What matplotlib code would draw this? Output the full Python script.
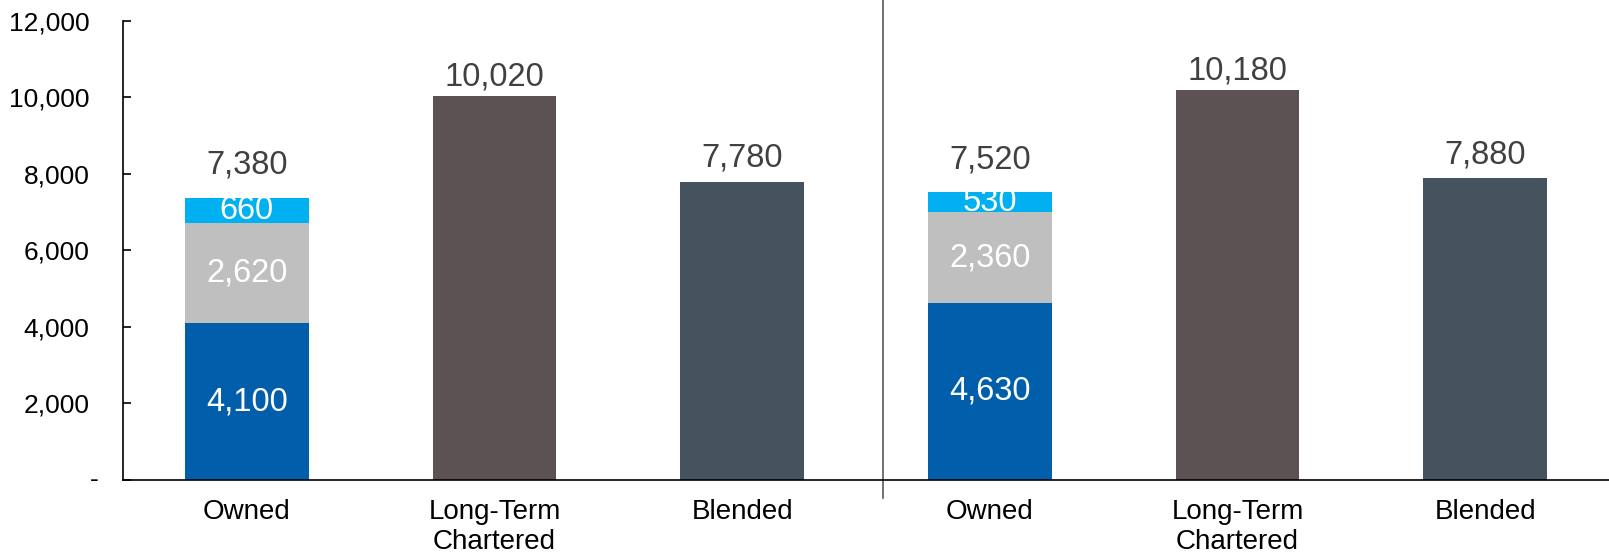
import matplotlib.pyplot as plt

plt.rcParams['font.family'] = ['Liberation Sans', 'DejaVu Sans']

# two groups of three columns, owned column stacked in three parts
categories = ['Owned', 'Long-Term\nChartered', 'Blended', 'Owned', 'Long-Term\nChartered', 'Blended']
owned_base = [4100, 4630]
owned_mid = [2620, 2360]
owned_top = [660, 530]
chartered = [10020, 10180]
blended = [7780, 7880]
yticks = [0, 2000, 4000, 6000, 8000, 10000, 12000]

c_base = '#005EAA'
c_mid = '#BFBFBF'
c_top = '#00B0F0'
c_chart = '#5C5153'
c_blend = '#44535D'
c_total = '#404040'
fs_val = 23.5

fig = plt.figure(figsize=(16.09, 5.54), dpi=100)
ax = fig.add_axes([0.0764, 0.1336, 0.9236, 0.829])

width = 0.5
for g in range(2):
    x0 = g * 3
    b1 = ax.bar(x0, owned_base[g], width, color=c_base)
    b2 = ax.bar(x0, owned_mid[g], width, bottom=owned_base[g], color=c_mid)
    b3 = ax.bar(x0, owned_top[g], width, bottom=owned_base[g] + owned_mid[g], color=c_top)
    for bars, v in ((b1, owned_base[g]), (b2, owned_mid[g]), (b3, owned_top[g])):
        r = bars[0]
        ax.text(r.get_x() + r.get_width() / 2, r.get_y() + r.get_height() / 2,
                f'{v:,}', ha='center', va='center', color='white', fontsize=fs_val)
    total = owned_base[g] + owned_mid[g] + owned_top[g]
    ax.annotate(f'{total:,}', (x0, total), xytext=(0, 12), textcoords='offset points',
                ha='center', va='bottom', color=c_total, fontsize=fs_val)

    ax.bar(x0 + 1, chartered[g], width, color=c_chart)
    ax.annotate(f'{chartered[g]:,}', (x0 + 1, chartered[g]), xytext=(0, 3),
                textcoords='offset points', ha='center', va='bottom', color=c_total, fontsize=fs_val)
    ax.bar(x0 + 2, blended[g], width, color=c_blend)
    ax.annotate(f'{blended[g]:,}', (x0 + 2, blended[g]), xytext=(0, 6),
                textcoords='offset points', ha='center', va='bottom', color=c_total, fontsize=fs_val)

# divider between the two groups
ax.plot([2.57, 2.57], [-470, 12560], color='#595959', lw=1.2, clip_on=False)

ax.set_xlim(-0.5, 5.5)
ax.set_ylim(0, 12000)
ax.set_yticks(yticks)
ax.set_yticklabels(['' if t == 0 else f'{t:,}' for t in yticks], fontsize=19)
ax.annotate('-', xy=(0, 0), xycoords=('axes fraction', 'data'), xytext=(-29, 0),
            textcoords='offset pixels', ha='center', va='center', fontsize=19)
ax.set_xticks(range(6))
ax.set_xticklabels(categories, fontsize=20, linespacing=1.2)
ax.tick_params(axis='y', direction='in', length=6, width=1.2, pad=24)
ax.tick_params(axis='x', length=0, pad=14)
ax.spines['top'].set_visible(False)
ax.spines['right'].set_visible(False)
ax.spines['left'].set_linewidth(1.2)
ax.spines['bottom'].set_linewidth(1.2)

fig.savefig('out.png', dpi=100)
